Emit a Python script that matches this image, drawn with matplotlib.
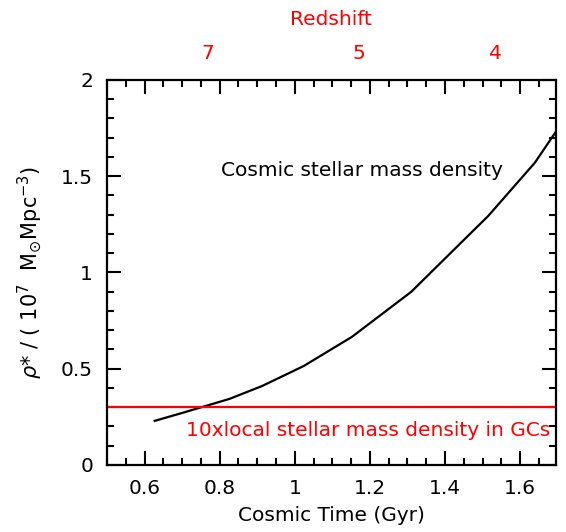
import numpy as np
import matplotlib.pyplot as plt
from matplotlib.ticker import MultipleLocator, NullLocator

# cosmic stellar mass density vs cosmic time
time_gyr = [0.627, 0.70, 0.826, 0.913, 1.024, 1.152, 1.31, 1.515, 1.639, 1.695, 1.72]
rho_star = [0.229, 0.27, 0.343, 0.41, 0.514, 0.665, 0.899, 1.293, 1.569, 1.73, 1.81]

# 10 x local stellar mass density in globular clusters
gc_level = 0.3

# redshift labels on the top axis and the cosmic time they sit at
redshift_labels = ["7", "5", "4"]
redshift_ages = [0.768, 1.17, 1.533]

plt.rcParams['font.family'] = ['DejaVu Sans']
plt.rcParams['mathtext.fontset'] = 'dejavusans'
fs = 14.5

fig = plt.figure(figsize=(5.66, 5.32), dpi=100)
ax = fig.add_axes([0.189, 0.126, 0.793, 0.724])

ax.plot(time_gyr, rho_star, color='k', lw=1.6)
ax.axhline(gc_level, color='red', lw=1.6)

ax.text(1.18, 1.53, "Cosmic stellar mass density", ha='center', va='center',
        fontsize=fs)
ax.text(1.194, 0.18, "10xlocal stellar mass density in GCs", ha='center',
        va='center', fontsize=fs, color='red')

ax.set_xlim(0.5, 1.695)
ax.set_ylim(0, 2)
ax.set_xticks([0.6, 0.8, 1.0, 1.2, 1.4, 1.6])
ax.set_xticklabels(["0.6", "0.8", "1", "1.2", "1.4", "1.6"])
ax.set_yticks([0, 0.5, 1, 1.5, 2])
ax.set_yticklabels(["0", "0.5", "1", "1.5", "2"])
ax.xaxis.set_minor_locator(MultipleLocator(0.05))
ax.yaxis.set_minor_locator(MultipleLocator(0.1))

ax.set_xlabel("Cosmic Time (Gyr)", fontsize=fs, labelpad=6)
ax.set_ylabel(r"$\rho$* / ( 10$^{7}$  M$_{\odot}$Mpc$^{-3}$)", fontsize=15,
              labelpad=12)

# top axis: redshift
ax2 = ax.twiny()
ax2.set_xlim(ax.get_xlim())
ax2.set_xticks(redshift_ages)
ax2.set_xticklabels(redshift_labels, color='red')
ax2.xaxis.set_minor_locator(NullLocator())
ax2.tick_params(axis='x', length=0, labelsize=fs, pad=12)
ax2.set_xlabel("Redshift", color='red', fontsize=fs, labelpad=14)
for sp in ax2.spines.values():
    sp.set_visible(False)

ax.tick_params(which='both', direction='in', top=True, right=True,
               labeltop=False, width=1.5, labelsize=fs, pad=10)
ax.tick_params(which='major', length=10)
ax.tick_params(which='minor', length=5)
for sp in ax.spines.values():
    sp.set_linewidth(1.6)

fig.savefig("out.png", dpi=100)
